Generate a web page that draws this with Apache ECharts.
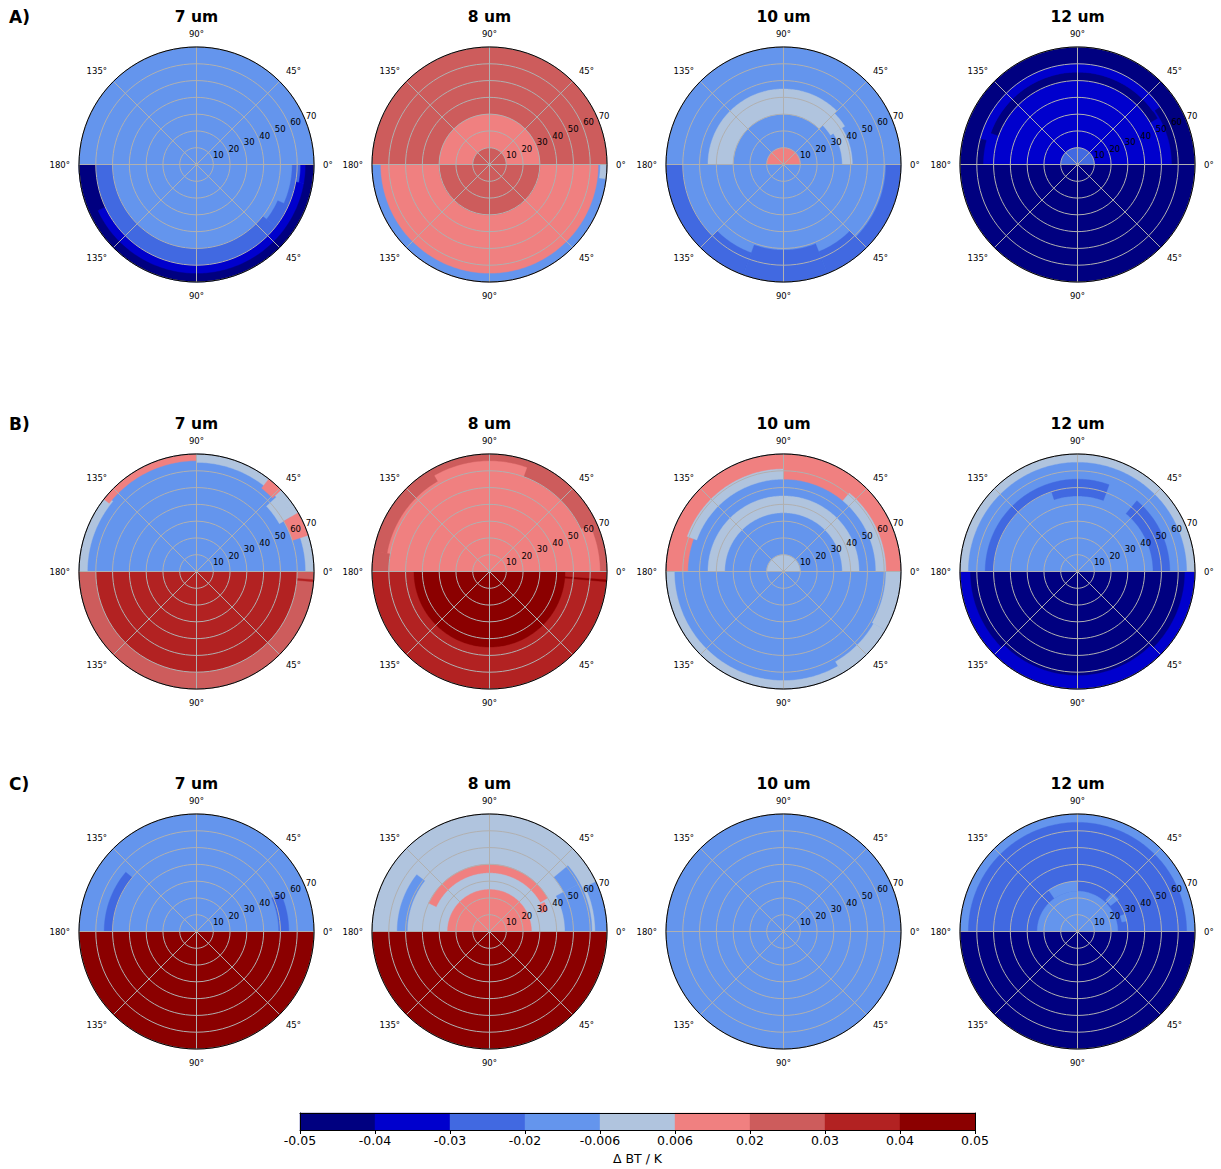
<!DOCTYPE html>
<html><head><meta charset="utf-8">
<script src="https://cdn.jsdelivr.net/npm/echarts@6/dist/echarts.min.js"></script>
<style>html,body{margin:0;padding:0;background:#fff}#c{width:1221px;height:1169px}</style>
</head><body><div id="c"></div>
<script>
// ---------------- data ----------------
const ROW_LABELS = ['A)', 'B)', 'C)'];
const WAVELENGTHS = ['7 um', '8 um', '10 um', '12 um'];
const LEVELS = [-0.05, -0.04, -0.03, -0.02, -0.006, 0.006, 0.02, 0.03, 0.04, 0.05];
const LEVEL_LABELS = ['-0.05', '-0.04', '-0.03', '-0.02', '-0.006', '0.006', '0.02', '0.03', '0.04', '0.05'];
const COLORS = ['#000080', '#0000cd', '#4169e1', '#6495ed', '#b0c4de', '#f08080', '#cd5c5c', '#b22222', '#8b0000'];
const ANGLE_LABELS = ['0°', '45°', '90°', '135°', '180°', '135°', '90°', '45°', ''];
const RADIUS_LABELS = ['', '10', '20', '30', '40', '50', '60', '70'];
const COLORBAR_LABEL = 'Δ BT / K';

// regions: [azimuth start, azimuth end, zenith start, zenith end, ΔBT]  (painted in order)
const A7 = [
  [0, 180, 0, 70, -0.013], [180, 360, 0, 70, -0.013],
  [180, 322, 50, 70, -0.025], [322, 336, 53, 70, -0.025], [336, 360, 57, 70, -0.025],
  [205, 350, 60, 66, -0.035], [350, 360, 62, 66, -0.035],
  [180, 360, 65, 70, -0.045], [180, 205, 60, 70, -0.045]
];
const A8 = [
  [0, 180, 0, 70, 0.025], [0, 180, 10, 30, 0.013],
  [180, 360, 0, 70, 0.013], [180, 360, 0, 30, 0.025],
  [180, 360, 65, 70, -0.013], [353, 360, 66, 70, 0]
];
const A10 = [
  [0, 180, 0, 70, -0.013], [45, 180, 30, 45, 0], [32, 45, 33, 43, 0], [0, 32, 35, 41, 0],
  [0, 180, 0, 10, 0.013],
  [180, 360, 0, 70, -0.013],
  [180, 225, 60, 70, -0.025], [225, 250, 56, 70, -0.025], [250, 292, 51, 70, -0.025],
  [292, 315, 56, 70, -0.025], [315, 360, 61, 70, -0.025]
];
const A12 = [
  [0, 180, 0, 70, -0.045], [0, 180, 0, 56, -0.035], [30, 160, 50, 55, -0.045],
  [35, 165, 55, 60, -0.035], [0, 180, 0, 10, -0.025],
  [180, 360, 0, 70, -0.045]
];
const B7 = [
  [0, 180, 0, 70, -0.013], [0, 90, 65, 70, 0], [140, 180, 65, 70, 0], [90, 142, 66, 70, 0.013],
  [44, 52, 63, 70, 0.013], [30, 43, 57, 66, 0], [18, 30, 60, 70, 0.013],
  [180, 360, 0, 70, 0.035], [180, 360, 60, 70, 0.025], [355, 356, 60, 70, 0.035]
];
const B8 = [
  [0, 180, 0, 70, 0.013], [0, 180, 66, 70, 0.025], [120, 170, 62, 70, 0.025],
  [25, 70, 60, 70, 0.025], [170, 180, 60, 70, 0.025],
  [180, 360, 0, 70, 0.035], [180, 360, 0, 45, 0.045], [355, 356, 45, 70, 0.045]
];
const B10 = [
  [0, 180, 0, 70, -0.013], [0, 180, 60, 70, 0.013], [50, 90, 55, 70, 0.013], [160, 180, 57, 70, 0.013],
  [90, 160, 55, 61, 0], [0, 50, 55, 61, 0], [0, 180, 35, 45, 0], [0, 180, 0, 10, 0],
  [180, 360, 0, 70, -0.013], [180, 300, 65, 70, 0], [300, 330, 62, 70, 0], [330, 360, 61, 70, 0]
];
const B12 = [
  [0, 180, 0, 70, 0], [0, 180, 0, 65, -0.013], [70, 180, 50, 55, -0.025],
  [70, 108, 45, 50, -0.025], [0, 50, 45, 55, -0.025],
  [180, 360, 0, 70, -0.045], [180, 360, 64, 70, -0.035], [225, 315, 62, 70, -0.035]
];
const C7 = [
  [0, 180, 0, 70, -0.013], [140, 180, 50, 55, -0.025], [0, 24, 49, 55, -0.025],
  [180, 360, 0, 70, 0.045]
];
const C8 = [
  [0, 180, 0, 70, 0], [0, 180, 0, 25, 0.013], [30, 155, 35, 40, 0.013], [20, 28, 33, 37, 0.013],
  [142, 180, 49, 55, -0.013], [0, 28, 45, 61, -0.013], [28, 40, 50, 61, -0.013], [0, 25, 63, 70, -0.013],
  [180, 360, 0, 70, 0.045]
];
const C10 = [
  [0, 180, 0, 70, -0.013], [180, 360, 0, 70, -0.013]
];
const C12 = [
  [0, 180, 0, 70, -0.013], [0, 180, 0, 65, -0.025], [0, 180, 0, 24, -0.013],
  [90, 125, 24, 30, -0.013], [38, 48, 25, 31, -0.013], [12, 20, 27, 30, -0.013],
  [180, 360, 0, 70, -0.045]
];
const PANELS = [A7, A8, A10, A12, B7, B8, B10, B12, C7, C8, C10, C12];

// ---------------- layout ----------------
const CX = [196.5, 489.5, 783.5, 1077.5];
const CY = [164.5, 571.5, 931.5];
const R = 117.5;
const LABEL_SHIFT = 13;
const FONT = '"DejaVu Sans", "Liberation Sans", sans-serif';

const polar = [], angleAxis = [], radiusAxis = [], series = [], graphic = [];

function renderSector(params, api) {
  const t0 = api.value(0), t1 = api.value(1), r0 = api.value(2), r1 = api.value(3);
  const n = Math.max(2, Math.ceil(t1 - t0));
  const pts = [];
  for (let i = 0; i <= n; i++) pts.push(api.coord([r1, t0 + (t1 - t0) * i / n]));
  if (r0 > 0) {
    for (let i = n; i >= 0; i--) pts.push(api.coord([r0, t0 + (t1 - t0) * i / n]));
  } else {
    pts.push(api.coord([0, t0]));
  }
  const c = api.visual('color');
  return { type: 'polygon', shape: { points: pts }, style: { fill: c, stroke: c, lineWidth: 0.4 } };
}

PANELS.forEach((data, k) => {
  const row = Math.floor(k / 4), col = k % 4;
  polar.push({ center: [CX[col], CY[row]], radius: R });
  polar.push({ center: [CX[col] + LABEL_SHIFT, CY[row]], radius: R });
  angleAxis.push({
    polarIndex: 2 * k, type: 'value', min: 0, max: 360, interval: 45, startAngle: 0, clockwise: false, z: 11,
    axisLine: { show: true, lineStyle: { color: '#000', width: 1 } },
    axisTick: { show: false },
    splitLine: { show: true, lineStyle: { color: '#b0b0b0', width: 1 } },
    axisLabel: { formatter: v => ANGLE_LABELS[Math.round(v / 45)], fontSize: 8.5, color: '#000', margin: 9, fontFamily: FONT }
  });
  angleAxis.push({ polarIndex: 2 * k + 1, type: 'value', min: 0, max: 360, startAngle: 23, clockwise: false, show: false });
  radiusAxis.push({
    polarIndex: 2 * k, type: 'value', min: 0, max: 70, interval: 10, z: 10,
    axisLine: { show: false }, axisTick: { show: false }, axisLabel: { show: false },
    splitLine: { show: true, lineStyle: { color: '#b0b0b0', width: 1 } }
  });
  radiusAxis.push({
    polarIndex: 2 * k + 1, type: 'value', min: 0, max: 70, interval: 10, z: 12,
    axisLine: { show: false }, axisTick: { show: false }, splitLine: { show: false },
    axisLabel: { formatter: v => RADIUS_LABELS[Math.round(v / 10)], fontSize: 8.5, color: '#000', margin: 3, fontFamily: FONT }
  });
  series.push({
    type: 'custom', coordinateSystem: 'polar', polarIndex: 2 * k,
    encode: { radius: [2, 3], angle: [0, 1] },
    renderItem: renderSector, data: data, silent: true, animation: false
  });
  graphic.push({
    type: 'text', x: CX[col], y: CY[row] - 148, z: 100,
    style: { text: WAVELENGTHS[col], font: 'bold 15.5px ' + FONT, fill: '#000',
      textAlign: 'center', align: 'center', textVerticalAlign: 'middle', verticalAlign: 'middle' }
  });
});
ROW_LABELS.forEach((t, r) => {
  graphic.push({
    type: 'text', x: 9, y: CY[r] - 147.5, z: 100,
    style: { text: t, font: 'bold 17px ' + FONT, fill: '#000',
      textAlign: 'left', align: 'left', textVerticalAlign: 'middle', verticalAlign: 'middle' }
  });
});

// colorbar
const COLORBAR = LEVELS.slice(0, -1).map((v, i) => [i, i + 1, 0, 1, (v + LEVELS[i + 1]) / 2]);
series.push({
  type: 'custom', coordinateSystem: 'cartesian2d', xAxisIndex: 0, yAxisIndex: 0,
  encode: { x: [0, 1], y: [2, 3] }, data: COLORBAR, silent: true, animation: false,
  renderItem: function (params, api) {
    const p0 = api.coord([api.value(0), api.value(3)]);
    const p1 = api.coord([api.value(1), api.value(2)]);
    const c = api.visual('color');
    return { type: 'rect', shape: { x: p0[0], y: p0[1], width: p1[0] - p0[0], height: p1[1] - p0[1] },
      style: { fill: c, stroke: c, lineWidth: 0.4 } };
  }
});

const pieces = COLORS.map((c, i) => i === COLORS.length - 1
  ? { gte: LEVELS[i], lte: LEVELS[i + 1], color: c }
  : { gte: LEVELS[i], lt: LEVELS[i + 1], color: c });

const option = {
  animation: false,
  backgroundColor: '#fff',
  textStyle: { fontFamily: FONT },
  polar: polar, angleAxis: angleAxis, radiusAxis: radiusAxis,
  grid: [{ left: 300, top: 1113, width: 675, height: 17 }],
  xAxis: [
    { gridIndex: 0, type: 'value', min: 0, max: 9, interval: 1, z: 5,
      axisLine: { show: true, onZero: false, lineStyle: { color: '#000', width: 1 } },
      axisTick: { show: true, length: 4, lineStyle: { color: '#000' } },
      splitLine: { show: false },
      axisLabel: { formatter: v => LEVEL_LABELS[Math.round(v)], fontSize: 12.5, color: '#000', margin: 4, fontFamily: FONT }
    },
    { gridIndex: 0, type: 'value', min: 0, max: 9, position: 'top', z: 5,
      axisLine: { show: true, onZero: false, lineStyle: { color: '#000', width: 1 } },
      axisTick: { show: false }, axisLabel: { show: false }, splitLine: { show: false } }
  ],
  yAxis: [
    { gridIndex: 0, type: 'value', min: 0, max: 1, z: 5,
      axisLine: { show: true, onZero: false, lineStyle: { color: '#000', width: 1 } },
      axisTick: { show: false }, axisLabel: { show: false }, splitLine: { show: false } },
    { gridIndex: 0, type: 'value', min: 0, max: 1, position: 'right', z: 5,
      axisLine: { show: true, onZero: false, lineStyle: { color: '#000', width: 1 } },
      axisTick: { show: false }, axisLabel: { show: false }, splitLine: { show: false } }
  ],
  visualMap: { type: 'piecewise', show: false, dimension: 4, pieces: pieces,
    seriesIndex: series.map((s, i) => i) },
  series: series,
  graphic: graphic.concat([{
    type: 'text', x: 637.5, y: 1158, z: 100,
    style: { text: COLORBAR_LABEL, font: '12.5px ' + FONT, fill: '#000',
      textAlign: 'center', align: 'center', textVerticalAlign: 'middle', verticalAlign: 'middle' }
  }])
};

const chart = echarts.init(document.getElementById('c'), null, { renderer: 'svg', width: 1221, height: 1169 });
chart.setOption(option);
</script>
</body></html>
